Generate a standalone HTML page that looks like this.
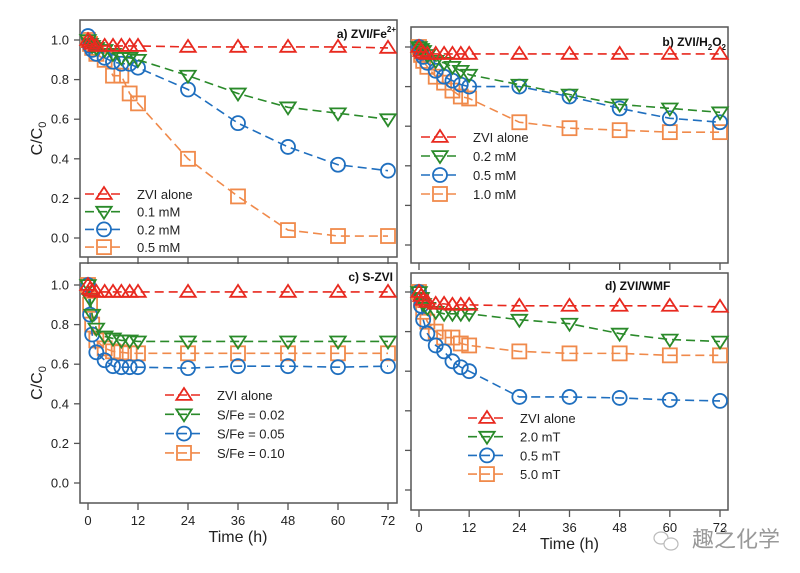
<!DOCTYPE html>
<html><head><meta charset="utf-8"><style>
body{margin:0;background:#fff;}
svg{display:block;font-family:"Liberation Sans","Noto Sans CJK SC",sans-serif;}
</style></head><body>
<svg id="fig" width="800" height="573" viewBox="0 0 800 573"></svg>
<script>
const times=[0,0.5,1,2,4,6,8,10,12,24,36,48,60,72];
const xTicks=[0,12,24,36,48,60,72];
const yTicks=[0,0.2,0.4,0.6,0.8,1.0];
const colors=["#e8291f","#2a8a2a","#1f6fbf","#f08a4b"];
const markers=["up","down","circle","square"];
const aRed=[1.0,0.99,0.98,0.97,0.97,0.97,0.97,0.97,0.97,0.965,0.965,0.965,0.965,0.96];
const aGreen=[1.0,0.98,0.97,0.96,0.95,0.93,0.91,0.91,0.90,0.82,0.73,0.66,0.63,0.60];
const aBlue=[1.02,0.97,0.95,0.93,0.91,0.89,0.88,0.88,0.86,0.75,0.58,0.46,0.37,0.34];
const aOrange=[1.0,0.98,0.96,0.93,0.90,0.82,0.82,0.73,0.68,0.40,0.21,0.04,0.01,0.01];
const bRed=[1.0,0.98,0.97,0.965,0.965,0.965,0.965,0.965,0.965,0.965,0.965,0.965,0.965,0.965];
const bGreen=[1.0,0.99,0.98,0.96,0.93,0.92,0.90,0.88,0.86,0.81,0.76,0.71,0.69,0.67];
const bBlue=[1.0,0.97,0.95,0.92,0.88,0.85,0.83,0.81,0.80,0.80,0.75,0.69,0.64,0.62];
const bOrange=[1.0,0.96,0.93,0.90,0.85,0.82,0.78,0.75,0.74,0.62,0.59,0.58,0.57,0.57];
const cRed=[1.0,0.98,0.97,0.965,0.965,0.965,0.965,0.965,0.965,0.965,0.965,0.965,0.965,0.965];
const cGreen=[1.0,0.93,0.85,0.78,0.74,0.73,0.72,0.72,0.715,0.715,0.715,0.715,0.715,0.715];
const cBlue=[1.0,0.85,0.75,0.66,0.62,0.59,0.585,0.585,0.585,0.58,0.59,0.59,0.585,0.59];
const cOrange=[1.0,0.90,0.80,0.72,0.68,0.665,0.66,0.655,0.655,0.655,0.655,0.655,0.655,0.655];
const dRed=[1.0,0.98,0.96,0.95,0.94,0.94,0.935,0.935,0.935,0.93,0.93,0.93,0.93,0.925];
const dGreen=[1.0,0.97,0.94,0.92,0.90,0.89,0.89,0.89,0.89,0.86,0.84,0.79,0.76,0.75];
const dBlue=[1.0,0.93,0.86,0.79,0.73,0.70,0.65,0.62,0.60,0.47,0.47,0.465,0.455,0.45];
const dOrange=[1.0,0.96,0.90,0.85,0.80,0.77,0.77,0.74,0.73,0.70,0.69,0.69,0.68,0.68];
const legA=["ZVI alone","0.1 mM","0.2 mM","0.5 mM"];
const legB=["ZVI alone","0.2 mM","0.5 mM","1.0 mM"];
const legC=["ZVI alone","S/Fe = 0.02","S/Fe = 0.05","S/Fe = 0.10"];
const legD=["ZVI alone","2.0 mT","0.5 mT","5.0 mT"];

const NS="http://www.w3.org/2000/svg";
const svg=document.getElementById('fig');
function mk(tag,attrs,parent){const e=document.createElementNS(NS,tag);for(const k in attrs)e.setAttribute(k,attrs[k]);(parent||svg).appendChild(e);return e;}
function marker(g,type,x,y,c,r){
  let e;
  const sw=1.8;
  if(type==="circle"){e=mk('circle',{cx:x,cy:y,r:r,fill:'none',stroke:c,'stroke-width':sw},g);}
  else if(type==="square"){e=mk('rect',{x:x-r,y:y-r,width:2*r,height:2*r,fill:'none',stroke:c,'stroke-width':sw},g);}
  else if(type==="up"){e=mk('polygon',{points:`${x},${y-r} ${x-r*1.1},${y+r*0.7} ${x+r*1.1},${y+r*0.7}`,fill:'none',stroke:c,'stroke-width':sw},g);}
  else {e=mk('polygon',{points:`${x},${y+r} ${x-r*1.1},${y-r*0.7} ${x+r*1.1},${y-r*0.7}`,fill:'none',stroke:c,'stroke-width':sw},g);}
  return e;
}
function panel(p){
  const g=mk('g',{});
  
  
  const xs=t=>p.x0+(t/72)*(p.x72-p.x0);
  const ys=v=>p.y0-v*(p.y0-p.y1);
  const fr=mk('rect',{x:p.fl,y:p.ft,width:p.fr-p.fl,height:p.fb-p.ft,fill:'none',stroke:'#555','stroke-width':1.5},g);
  
  
  xTicks.forEach(t=>{
    const l=mk('line',{x1:xs(t),x2:xs(t),y1:p.fb,y2:p.fb+7,stroke:'#555','stroke-width':1.3},g);
    
    
    if(p.xlab){const tx=mk('text',{x:xs(t),y:p.fb+22,'text-anchor':'middle','font-size':13,fill:'#222'},g);tx.textContent=t;
      
      }
  });
  yTicks.forEach(v=>{
    const l=mk('line',{x1:p.fl-6,x2:p.fl,y1:ys(v),y2:ys(v),stroke:'#555','stroke-width':1.3},g);
    
    
    if(p.ylab){const tx=mk('text',{x:p.fl-11,y:ys(v)+4.5,'text-anchor':'end','font-size':13,fill:'#222'},g);tx.textContent=v.toFixed(1);
      
      }
  });
  if(p.xlab){const tt=mk('text',{x:(xs(0)+xs(72))/2,y:p.fb+39,'text-anchor':'middle','font-size':16,fill:'#222'},g);tt.textContent='Time (h)';
    
    }
  if(p.ylab){const yt=mk('text',{x:0,y:0,'text-anchor':'middle','font-size':16,fill:'#222',transform:`translate(42,${(p.ft+p.fb)/2}) rotate(-90)`},g);
    yt.innerHTML='C/C<tspan font-size="11" dy="4">0</tspan>';
    
    }
  const ti=mk('text',{x:p.tx,y:p.ty,'text-anchor':p.ta,'font-size':12,'font-weight':'bold',fill:'#111'},g);
  ti.innerHTML=p.title;
  
  
  [3,2,1,0].forEach(i=>{
    const d=p.series[i];
    const sg=mk('g',{},g);
    
    
    const pts=times.map((t,k)=>xs(t)+','+ys(d[k])).join(' ');
    mk('polyline',{points:pts,fill:'none',stroke:colors[i],'stroke-width':1.6,'stroke-dasharray':'9,5'},sg);
    times.forEach((t,k)=>{
      const m=marker(sg,markers[i],xs(t),ys(d[k]),colors[i],7);
      
      
    });
  });
  const lg=mk('g',{},g);
  
  
  p.leg.forEach((s,i)=>{
    const y=p.ly+i*p.ld;
    const eg=mk('g',{},lg);
    
    
    mk('line',{x1:p.lx,x2:p.lx+38,y1:y,y2:y,stroke:colors[i],'stroke-width':1.6,'stroke-dasharray':'9,4'},eg);
    marker(eg,markers[i],p.lx+19,y,colors[i],7);
    const t=mk('text',{x:p.lx+52,y:y+5,'font-size':13,fill:'#222'},eg);t.textContent=s;
  });
}
panel({name:'panel-a',fl:80,fr:397,ft:20,fb:257,x0:88,x72:388,y0:238,y1:40,xlab:false,ylab:true,
  title:'a) ZVI/Fe<tspan font-size="8" dy="-6">2+</tspan>',tx:396,ty:38,ta:'end',
  series:[aRed,aGreen,aBlue,aOrange],leg:legA,lx:85,ly:194,ld:17.7});
panel({name:'panel-b',fl:411,fr:728,ft:27,fb:263,x0:419,x72:720,y0:245,y1:47,xlab:false,ylab:false,
  title:'b) ZVI/H<tspan font-size="8" dy="4">2</tspan><tspan dy="-4">O</tspan><tspan font-size="8" dy="4">2</tspan>',tx:726,ty:46,ta:'end',
  series:[bRed,bGreen,bBlue,bOrange],leg:legB,lx:421,ly:137,ld:19});
panel({name:'panel-c',fl:80,fr:397,ft:263,fb:503,x0:88,x72:388,y0:483,y1:285,xlab:true,ylab:true,
  title:'c) S-ZVI',tx:393,ty:281,ta:'end',
  series:[cRed,cGreen,cBlue,cOrange],leg:legC,lx:165,ly:395,ld:19.3});
panel({name:'panel-d',fl:411,fr:728,ft:273,fb:510,x0:419,x72:720,y0:490,y1:292,xlab:true,ylab:false,
  title:'d) ZVI/WMF',tx:605,ty:290,ta:'start',
  series:[dRed,dGreen,dBlue,dOrange],leg:legD,lx:468,ly:418,ld:18.7});
const wm=mk('g',{});


mk('ellipse',{cx:661,cy:538,rx:7,ry:6,fill:'none',stroke:'#bbb','stroke-width':1.2},wm);
mk('ellipse',{cx:671,cy:544,rx:7,ry:6,fill:'#fff',stroke:'#bbb','stroke-width':1.2},wm);
const wt=mk('text',{x:692,y:547,'font-size':22,fill:'#999','font-family':'"Noto Sans CJK SC",sans-serif'},wm);
wt.textContent='趣之化学';
</script>
</body></html>
